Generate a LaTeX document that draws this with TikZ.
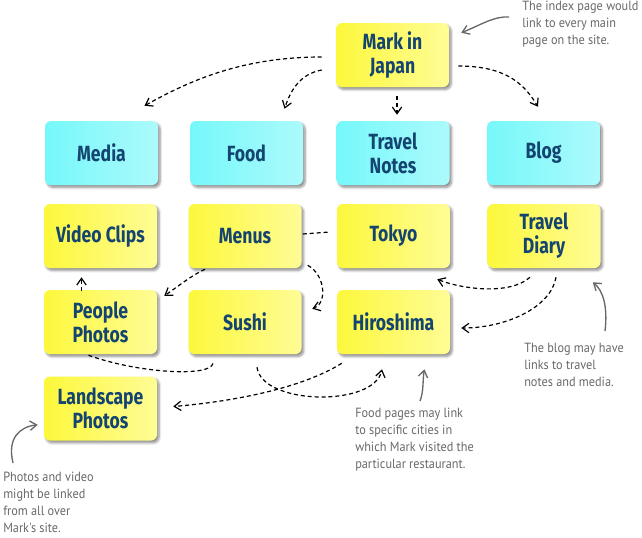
\documentclass[tikz,border=0pt]{standalone}
\usepackage{fontspec}
\setmainfont{PT Sans}
\newfontfamily\boxfont[FakeStretch=0.8]{Fira Sans}
\newfontfamily\notefont[FakeStretch=0.92]{PT Sans}
\usetikzlibrary{arrows.meta,shadows.blur,calc}
\definecolor{txtblue}{RGB}{20,68,112}
\definecolor{cyanL}{RGB}{118,248,250}
\definecolor{cyanR}{RGB}{172,250,252}
\definecolor{yelL}{RGB}{252,248,60}
\definecolor{yelR}{RGB}{255,252,150}
\definecolor{notegray}{RGB}{104,104,104}
\begin{document}
\begin{tikzpicture}[x=0.75pt,y=-0.75pt,
  box/.style={draw=none, rounded corners=4.5pt, minimum width=84.75pt, minimum height=48pt, align=center, text=txtblue, font=\boxfont\bfseries\fontsize{16.5}{18}\selectfont, blur shadow={shadow xshift=1.6pt, shadow yshift=-1.8pt, shadow blur radius=1.8pt, shadow blur steps=6, shadow opacity=45}},
  cbox/.style={box, left color=cyanL, right color=cyanR},
  ybox/.style={box, left color=yelL, right color=yelR},
  link/.style={line width=0.9pt, dash pattern=on 3pt off 2.2pt, -{Straight Barb[length=5pt,width=7pt]}},
  plainlink/.style={line width=0.9pt, dash pattern=on 3pt off 2.2pt},
  note/.style={text=notegray, font=\notefont\fontsize{10}{12.75}\selectfont, align=left, anchor=north west, inner sep=0pt},
  notearrow/.style={draw=notegray, line width=1pt, -{Straight Barb[length=5pt,width=7pt]}}
]
\useasboundingbox (0,0) rectangle (642,537);

\node[ybox] (mark) at (392.5,55) {Mark in\\Japan};
\node[cbox] (media) at (101.5,153) {Media};
\node[cbox] (food) at (246.5,153) {Food};
\node[cbox] (tnotes) at (393,153) {Travel\\Notes};
\node[cbox] (blog) at (543.5,153) {Blog};
\node[ybox] (video) at (100.5,236) {Video Clips};
\node[ybox] (menus) at (245,236) {Menus};
\node[ybox] (tokyo) at (393.5,236) {Tokyo};
\node[ybox] (tdiary) at (544,236) {Travel\\Diary};
\node[ybox] (people) at (100.5,322) {People\\Photos};
\node[ybox] (sushi) at (245,322) {Sushi};
\node[ybox] (hiro) at (393.5,322) {Hiroshima};
\node[ybox] (land) at (100.5,408.5) {Landscape\\Photos};

% connectors
\draw[link] ($(mark.west)+(-14,2)$) .. controls +(-80,0) and +(45,-25) .. ($(media.north)+(43,-15)$);
\draw[link] ($(mark.west)+(-14,15)$) .. controls +(-22,4) and +(6,-18) .. ($(food.north)+(38,-12)$);
\draw[link] ($(mark.south)+(4.5,9)$) -- ($(tnotes.north)+(4,-6)$);
\draw[link] ($(mark.east)+(9,11)$) .. controls +(45,0) and +(-15,-25) .. ($(blog.north)+(-5.5,-14)$);
\draw[plainlink] ($(menus.east)+(1,-2)$) -- ($(tokyo.west)+(-7,-4)$);
\draw[link] ($(menus.south)+(-40,1)$) .. controls +(-15,7) and +(15,-10) .. ($(people.north east)+(7,6)$);
\draw[link] ($(menus.south east)+(6,-3)$) .. controls +(18,10) and +(15,-5) .. ($(sushi.north east)+(10.5,19)$);
\draw[link] ($(tdiary.south)+(-14,9)$) .. controls +(-20,18) and +(25,10) .. ($(tokyo.south east)+(-13,11)$);
\draw[link] ($(tdiary.south)+(12,9)$) .. controls +(-5,30) and +(45,0) .. ($(hiro.east)+(11,6)$);
\draw[link] ($(people.north)+(-19,1)$) -- ($(video.south)+(-19,9)$);
\draw[plainlink] ($(people.south)+(-12,1)$) .. controls +(50,18) and +(-2,14) .. ($(sushi.south)+(-32,9)$);
\draw[link] ($(hiro.south west)+(5,9)$) .. controls +(-40,25) and +(60,-5) .. ($(land.east)+(16,-2)$);
\draw[link] ($(sushi.south)+(12,13)$) .. controls +(5,38) and +(-8,38) .. ($(hiro.south)+(-11.5,15)$);

% notes
\node[note] (n1) at (522,1) {The index page would\\link to every main\\page on the site.};
\node[note] (n2) at (524,343) {The blog may have\\links to travel\\notes and media.};
\node[note] (n3) at (355,408) {Food pages may link\\to specific cities in\\which Mark visited the\\particular restaurant.};
\node[note] (n4) at (3,472) {Photos and video\\might be linked\\from all over\\Mark's site.};

\draw[notearrow] ($(n1.north west)+(-13,16)$) .. controls +(-15,-1) and +(20,-8) .. ($(mark.north east)+(12,10)$);
\draw[notearrow] ($(n2.north west)+(81,-12)$) .. controls +(3,-25) and +(10,8) .. ($(tdiary.south east)+(-8,14)$);
\draw[notearrow] ($(n3.north west)+(65,-7)$) .. controls +(4,-10) and +(-2,10) .. ($(hiro.south)+(31,15)$);
\draw[notearrow] ($(n4.north west)+(10,-9)$) .. controls +(-6,-25) and +(-18,2) .. ($(land.south west)+(-6,-16)$);
\end{tikzpicture}
\end{document}
